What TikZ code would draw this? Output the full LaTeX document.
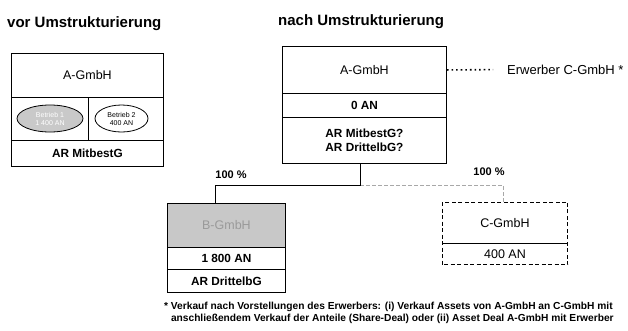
\documentclass[tikz,border=0pt]{standalone}
\usepackage{fontspec}
\setmainfont{Liberation Sans}
\usetikzlibrary{shapes.geometric}
\definecolor{boxgray}{HTML}{C8C8C8}
\definecolor{elgray}{HTML}{C9C9C9}
\definecolor{lingray}{HTML}{A8A8A8}
\definecolor{btext}{HTML}{9A9A9A}
\tikzset{
  cell/.style={draw=black, line width=0.9pt, rectangle, anchor=north west, inner sep=0pt, align=center, font=\fontsize{12.5}{15}\selectfont},
  bcell/.style={cell, font=\fontsize{11.8}{14.5}\selectfont\bfseries},
  title/.style={anchor=west, inner sep=0pt, font=\fontsize{15}{17}\selectfont\bfseries},
  pct/.style={inner sep=0pt, font=\fontsize{11}{13}\selectfont\bfseries},
  conn/.style={line width=0.9pt, draw=black},
  dconn/.style={line width=0.9pt, draw=lingray, dash pattern=on 4pt off 2pt},
  betr/.style={ellipse, draw=black, line width=0.8pt, inner sep=0pt, align=center, font=\fontsize{7}{8}\selectfont}
}
\begin{document}
\begin{tikzpicture}[x=1pt,y=-1pt]
\useasboundingbox (0,0) rectangle (628,330);
% titles
\node[title] (t1) at (7,24) {vor Umstrukturierung};
\node[title] (t2) at (278,22) {nach Umstrukturierung};
% left box
\node[cell, minimum width=152pt, minimum height=44pt] (lA) at (11,53) {A-GmbH};
\node[cell, minimum width=152pt, minimum height=43pt] (lM) at (11,97) {};
\node[bcell, minimum width=152pt, minimum height=26pt] (lR) at (11,140) {AR MitbestG};
\draw[conn] (88,97) -- (88,140);
\node[betr, fill=elgray, minimum width=66pt, minimum height=27pt, text=white] (e1) at (50,118.5) {Betrieb 1\\1 400 AN};
\node[betr, minimum width=53pt, minimum height=27pt] (e2) at (121.5,118.5) {Betrieb 2\\400 AN};
% right A box
\node[cell, minimum width=164pt, minimum height=47pt] (rA) at (282,46) {A-GmbH};
\node[bcell, minimum width=164pt, minimum height=24pt] (rN) at (282,93) {0 AN};
\node[bcell, minimum width=164pt, minimum height=46pt] (rR) at (282,117) {AR MitbestG?\\AR DrittelbG?};
% Erwerber
\node[inner sep=0pt, anchor=west, font=\fontsize{13}{15}\selectfont] (erw) at (507,69.5) {Erwerber C-GmbH *};
\draw[line width=1.6pt, dash pattern=on 1.6pt off 3pt, shorten >=14pt] (rA.east) -- (erw.west);
% B box
\node[cell, fill=boxgray, minimum width=118pt, minimum height=44pt, text=btext] (bA) at (167,203) {B-GmbH};
\node[bcell, minimum width=118pt, minimum height=22pt] (bN) at (167,247) {1 800 AN};
\node[bcell, minimum width=118pt, minimum height=23pt] (bR) at (167,269) {AR DrittelbG};
% C box
\node[cell, draw=none, minimum width=125pt, minimum height=41pt] (cA) at (442,202) {C-GmbH};
\node[cell, draw=none, minimum width=125pt, minimum height=21pt] (cN) at (442,243) {400 AN};
\draw[line width=0.9pt, dash pattern=on 4pt off 2.5pt] (cA.north west) rectangle (cN.south east);
\draw[conn] (cA.south west) -- (cA.south east);
% connectors
\coordinate (j) at (360,185);
\coordinate (jb) at (215,185);
\coordinate (jc) at (503,185);
\draw[dconn] (j) -- (jc) -- (jc |- cA.north);
\draw[conn] (j |- rR.south) -- (j) -- (jb) -- (jb |- bA.north);
\node[pct] (p1) at (231,175) {100 \%};
\node[pct] (p2) at (489,172) {100 \%};
% footnote
\node[anchor=north west, inner sep=0pt, align=left, font=\fontsize{10.2}{12}\selectfont\bfseries] (fn) at (164,302)
  {* Verkauf nach Vorstellungen des Erwerbers: (i) Verkauf Assets von A-GmbH an C-GmbH mit\\
   \phantom{* }anschließendem Verkauf der Anteile (Share-Deal) oder (ii) Asset Deal A-GmbH mit Erwerber};
\end{tikzpicture}
\end{document}
